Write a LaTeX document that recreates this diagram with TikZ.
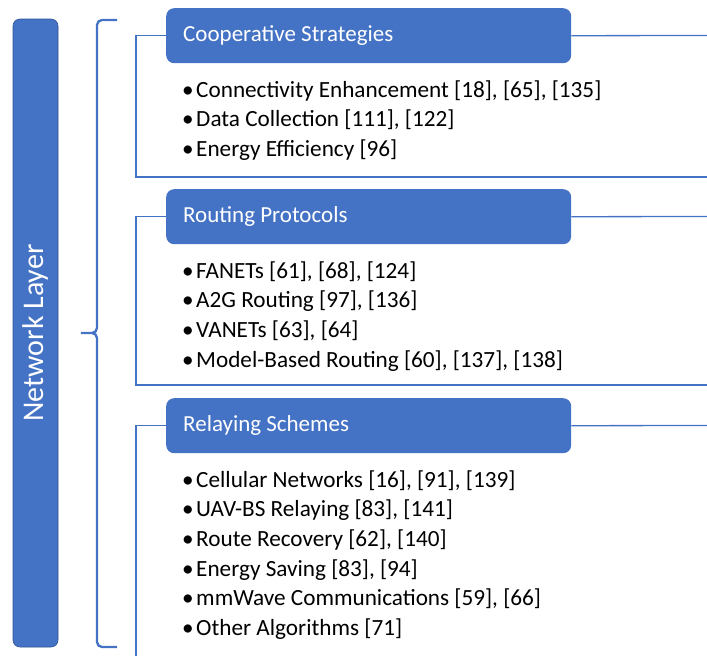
\documentclass[tikz,border=0pt]{standalone}
\usepackage{fontspec}
\setmainfont{Carlito}
\usetikzlibrary{positioning}
\definecolor{layerblue}{HTML}{4472C4}
\definecolor{layeredge}{HTML}{2F5597}
\newcommand{\headtext}[1]{\makebox[371pt][l]{#1}}
\tikzset{
  header/.style={fill=layerblue,rounded corners=8pt,anchor=north west,text=white,
    minimum height=55pt,inner xsep=17pt,
    font=\fontsize{23}{28}\selectfont},
  frame/.style={draw=layerblue,line width=1.3pt},
  item/.style={anchor=base west,inner sep=0pt,font=\fontsize{23.2}{28}\selectfont}
}

\begin{document}
\begin{tikzpicture}[x=1pt,y=-1pt]
  \useasboundingbox (0,0) rectangle (707,656);
  \clip (0,0) rectangle (707,656);
  % layer bar and brace
  \node[fill=layerblue,draw=layeredge,line width=0.6pt,rounded corners=7pt,rotate=90,
    minimum width=628pt,minimum height=45pt,text=white,
    font=\fontsize{30}{34}\selectfont] (layer) at (35.5,333) {Network Layer};
  \coordinate (tip) at (78,333);
  \draw[layerblue,line width=2.3pt,rounded corners=5pt]
    (117,20) -| (97,333) -- (tip) -- (97,333) |- (117,647);
  % headers
  \node[header] (coop) at (166,8) {\headtext{Cooperative Strategies}};
  \node[header] (routing) at (166,189) {\headtext{Routing Protocols}};
  \node[header] (relay) at (166,398) {\headtext{Relaying Schemes}};
  % frames
  \draw[frame] (coop.west) -| (136,177) -- (707,177);
  \draw[frame] (coop.east) -- (707,35.5);
  \draw[frame] (routing.west) -| (136,385) -- (707,385);
  \draw[frame] (routing.east) -- (707,216.5);
  \draw[frame] (relay.west) -| (136,660);
  \draw[frame] (relay.east) -- (707,425.5);
  % items
  \foreach \txt [count=\i] in {Connectivity Enhancement [18]{,} [65]{,} [135],
      Data Collection [111]{,} [122], Energy Efficiency [96]}
    \node[item] (coop\i) at (182,{97+29.7*(\i-1)}) {•\hspace{2.5pt}\txt};
  \foreach \txt [count=\i] in {FANETs [61]{,} [68]{,} [124], A2G Routing [97]{,} [136],
      VANETs [63]{,} [64], Model-Based Routing [60]{,} [137]{,} [138]}
    \node[item] (routing\i) at (182,{278+29.7*(\i-1)}) {•\hspace{2.5pt}\txt};
  \foreach \txt [count=\i] in {Cellular Networks [16]{,} [91]{,} [139],
      UAV-BS Relaying [83]{,} [141], Route Recovery [62]{,} [140],
      Energy Saving [83]{,} [94], mmWave Communications [59]{,} [66],
      Other Algorithms [71]}
    \node[item] (relay\i) at (182,{487+29.7*(\i-1)}) {•\hspace{2.5pt}\txt};
\end{tikzpicture}
\end{document}
